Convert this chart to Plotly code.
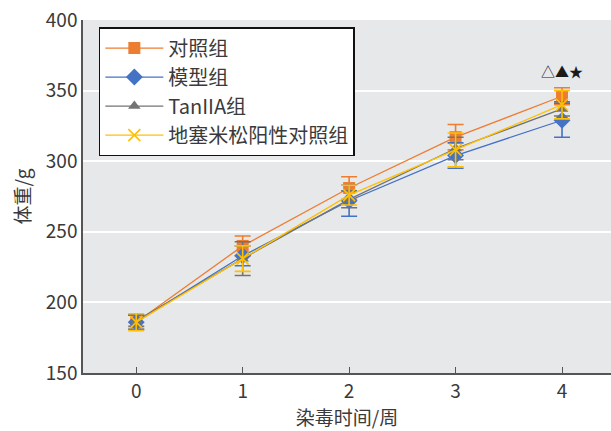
import plotly.graph_objects as go

weeks = [0, 1, 2, 3, 4]
tick_labels = ["0", "1", "2", "3", "4"]

control = [186, 240, 281, 317, 346]
control_err = [5, 7, 8, 9, 6]
model = [186, 233, 272, 304, 329]
model_err = [5, 7, 11, 9, 12]
tan = [187, 231, 273, 309, 337]
tan_err = [4, 12, 6, 8, 5]
dex = [186, 231, 276, 308, 340]
dex_err = [6, 9, 7, 12, 10]

series_names = ["对照组", "模型组", "TanIIA组", "地塞米松阳性对照组"]
sig_mark = "△▲★"

CJK = "Noto Sans CJK SC, Noto Sans, sans-serif"
TXT = "#3A3A3A"

styles = [
    dict(color="#ED7D31", symbol="square", size=12),
    dict(color="#4472C4", symbol="diamond", size=13),
    dict(color="#737373", symbol="triangle-up", size=11),
    dict(color="#FFC000", symbol="x-thin", size=12),
]

fig = go.Figure()
for name, ys, errs, st in zip(series_names, [control, model, tan, dex],
                              [control_err, model_err, tan_err, dex_err], styles):
    marker = dict(color=st["color"], symbol=st["symbol"], size=st["size"])
    if st["symbol"] == "x-thin":
        marker["line"] = dict(color=st["color"], width=1.6)
    fig.add_trace(go.Scatter(
        x=weeks, y=ys, name=name, mode="lines+markers",
        line=dict(color=st["color"], width=1.3),
        marker=marker,
        error_y=dict(type="data", array=errs, visible=True,
                     color=st["color"], thickness=1.6, width=8),
    ))

fig.add_annotation(x=weeks[-1], y=max(control) + 18, text=sig_mark, showarrow=False,
                   font=dict(size=14, color="#1A1A1A", family=CJK))

fig.update_layout(
    width=611, height=431,
    margin=dict(l=83, r=0, t=20, b=58),
    paper_bgcolor="white",
    plot_bgcolor="#E7E8EA",
    font=dict(family=CJK, size=19, color=TXT),
    legend=dict(
        x=0.03, y=0.98, xanchor="left", yanchor="top",
        bgcolor="white", bordercolor="#111111", borderwidth=1.5,
        font=dict(size=20, family=CJK, color=TXT),
        tracegroupgap=0, itemwidth=58,
    ),
    showlegend=True,
)
fig.update_xaxes(
    range=[-0.5, 4.46], tickvals=weeks, ticktext=tick_labels,
    showgrid=False, zeroline=False,
    showline=True, linecolor="#555555", linewidth=1.5,
    ticks="inside", ticklen=6, tickcolor="#555555",
    tickfont=dict(size=19, family=CJK, color=TXT),
    title=dict(text="染毒时间/周", font=dict(size=19, family=CJK, color=TXT), standoff=1),
)
fig.update_yaxes(
    range=[150, 400], dtick=50,
    showgrid=True, gridcolor="white", gridwidth=1.5, zeroline=False,
    showline=True, linecolor="#555555", linewidth=1.5, ticks="",
    tickfont=dict(size=19, family=CJK, color=TXT),
    title=dict(text="体重/g", font=dict(size=19, family=CJK, color=TXT), standoff=10),
)

fig.write_html("out.html")
